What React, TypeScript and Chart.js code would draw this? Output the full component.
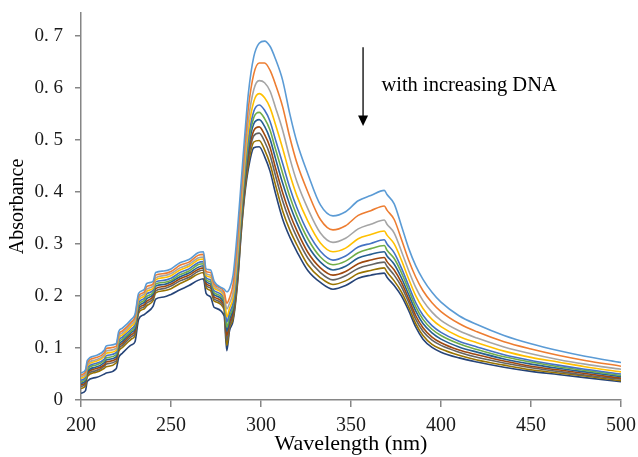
import React, { useEffect, useRef } from 'react';
import { Chart, registerables } from 'chart.js';

Chart.register(...registerables);

const wavelengths = [
  200, 202.5, 203.5, 208, 213, 214, 219.5, 221, 223, 228,
  230, 232, 235, 236.5, 240, 241.5, 246, 250, 255, 260,
  265, 268, 269.5, 272, 274, 279.5, 281, 282.5, 284.5, 287,
  289, 291, 293, 296, 299, 302, 305, 308, 312, 316,
  320, 326, 333, 340, 347, 354, 361, 368.5, 370, 374,
  378, 382, 386, 390, 395, 400, 410, 420, 435, 450,
  465, 480, 500,
];

const s1 = [
  0.052, 0.058, 0.076, 0.085, 0.096, 0.104, 0.108, 0.132, 0.138, 0.155,
  0.165, 0.205, 0.212, 0.224, 0.228, 0.245, 0.248, 0.252, 0.264, 0.270,
  0.283, 0.285, 0.252, 0.250, 0.228, 0.213, 0.208, 0.214, 0.240, 0.330,
  0.420, 0.510, 0.590, 0.660, 0.686, 0.690, 0.680, 0.656, 0.615, 0.550,
  0.495, 0.435, 0.375, 0.354, 0.362, 0.383, 0.393, 0.403, 0.395, 0.377,
  0.335, 0.292, 0.258, 0.232, 0.207, 0.188, 0.162, 0.145, 0.124, 0.108,
  0.095, 0.084, 0.072,
];
const s2 = [
  0.048, 0.054, 0.072, 0.081, 0.091, 0.099, 0.103, 0.127, 0.133, 0.150,
  0.160, 0.200, 0.207, 0.218, 0.223, 0.240, 0.243, 0.247, 0.259, 0.265,
  0.278, 0.280, 0.247, 0.245, 0.223, 0.208, 0.186, 0.196, 0.223, 0.310,
  0.401, 0.488, 0.562, 0.627, 0.648, 0.648, 0.634, 0.607, 0.564, 0.505,
  0.455, 0.400, 0.347, 0.327, 0.335, 0.355, 0.364, 0.373, 0.365, 0.347,
  0.309, 0.269, 0.236, 0.210, 0.187, 0.170, 0.147, 0.131, 0.112, 0.098,
  0.086, 0.076, 0.065,
];
const s3 = [
  0.045, 0.050, 0.068, 0.077, 0.087, 0.094, 0.099, 0.123, 0.129, 0.146,
  0.155, 0.196, 0.203, 0.213, 0.219, 0.235, 0.239, 0.243, 0.254, 0.261,
  0.273, 0.275, 0.243, 0.240, 0.219, 0.203, 0.175, 0.186, 0.208, 0.292,
  0.384, 0.469, 0.538, 0.597, 0.614, 0.610, 0.594, 0.563, 0.519, 0.465,
  0.419, 0.368, 0.321, 0.303, 0.311, 0.329, 0.338, 0.346, 0.338, 0.321,
  0.286, 0.249, 0.216, 0.191, 0.169, 0.153, 0.133, 0.119, 0.102, 0.089,
  0.078, 0.069, 0.059,
];
const s4 = [
  0.042, 0.047, 0.065, 0.074, 0.084, 0.090, 0.095, 0.119, 0.125, 0.142,
  0.151, 0.192, 0.199, 0.209, 0.215, 0.231, 0.235, 0.239, 0.250, 0.257,
  0.269, 0.271, 0.239, 0.236, 0.215, 0.199, 0.160, 0.176, 0.197, 0.279,
  0.371, 0.454, 0.519, 0.574, 0.589, 0.581, 0.562, 0.530, 0.484, 0.434,
  0.392, 0.344, 0.302, 0.285, 0.292, 0.310, 0.318, 0.325, 0.317, 0.300,
  0.269, 0.233, 0.200, 0.176, 0.155, 0.141, 0.122, 0.110, 0.094, 0.082,
  0.073, 0.064, 0.054,
];
const s5 = [
  0.038, 0.044, 0.062, 0.070, 0.079, 0.085, 0.091, 0.114, 0.121, 0.137,
  0.146, 0.187, 0.195, 0.204, 0.211, 0.227, 0.230, 0.234, 0.245, 0.252,
  0.264, 0.266, 0.235, 0.231, 0.210, 0.195, 0.150, 0.168, 0.187, 0.267,
  0.360, 0.441, 0.503, 0.555, 0.567, 0.557, 0.536, 0.501, 0.455, 0.408,
  0.369, 0.323, 0.286, 0.269, 0.277, 0.294, 0.301, 0.308, 0.300, 0.283,
  0.254, 0.220, 0.187, 0.163, 0.143, 0.130, 0.113, 0.102, 0.087, 0.076,
  0.067, 0.059, 0.050,
];
const s6 = [
  0.035, 0.040, 0.058, 0.067, 0.076, 0.081, 0.087, 0.110, 0.117, 0.133,
  0.142, 0.183, 0.191, 0.199, 0.207, 0.223, 0.226, 0.230, 0.241, 0.248,
  0.260, 0.262, 0.231, 0.227, 0.206, 0.191, 0.140, 0.161, 0.181, 0.260,
  0.353, 0.433, 0.493, 0.543, 0.553, 0.541, 0.519, 0.483, 0.436, 0.391,
  0.354, 0.310, 0.275, 0.260, 0.267, 0.283, 0.291, 0.297, 0.288, 0.272,
  0.245, 0.212, 0.179, 0.155, 0.136, 0.124, 0.108, 0.097, 0.083, 0.073,
  0.064, 0.057, 0.047,
];
const s7 = [
  0.032, 0.037, 0.055, 0.063, 0.072, 0.077, 0.083, 0.106, 0.113, 0.130,
  0.137, 0.179, 0.187, 0.195, 0.203, 0.219, 0.222, 0.227, 0.237, 0.244,
  0.255, 0.258, 0.228, 0.223, 0.202, 0.187, 0.132, 0.155, 0.175, 0.252,
  0.346, 0.425, 0.483, 0.531, 0.539, 0.526, 0.502, 0.465, 0.417, 0.375,
  0.340, 0.297, 0.265, 0.250, 0.257, 0.273, 0.280, 0.285, 0.277, 0.261,
  0.235, 0.203, 0.171, 0.147, 0.129, 0.117, 0.102, 0.092, 0.079, 0.069,
  0.061, 0.054, 0.045,
];
const s8 = [
  0.029, 0.034, 0.052, 0.060, 0.068, 0.073, 0.079, 0.102, 0.109, 0.126,
  0.133, 0.175, 0.183, 0.190, 0.199, 0.214, 0.218, 0.223, 0.233, 0.240,
  0.251, 0.254, 0.224, 0.219, 0.198, 0.182, 0.124, 0.149, 0.169, 0.245,
  0.339, 0.417, 0.473, 0.518, 0.525, 0.510, 0.486, 0.447, 0.399, 0.358,
  0.325, 0.284, 0.254, 0.240, 0.247, 0.262, 0.269, 0.274, 0.266, 0.250,
  0.226, 0.195, 0.162, 0.139, 0.121, 0.110, 0.096, 0.087, 0.075, 0.065,
  0.058, 0.051, 0.042,
];
const s9 = [
  0.026, 0.031, 0.049, 0.056, 0.065, 0.069, 0.075, 0.098, 0.105, 0.122,
  0.129, 0.171, 0.179, 0.186, 0.195, 0.210, 0.214, 0.219, 0.229, 0.236,
  0.247, 0.250, 0.220, 0.215, 0.194, 0.178, 0.115, 0.144, 0.163, 0.239,
  0.333, 0.410, 0.464, 0.508, 0.513, 0.497, 0.471, 0.432, 0.383, 0.344,
  0.312, 0.273, 0.245, 0.231, 0.239, 0.253, 0.260, 0.265, 0.257, 0.240,
  0.218, 0.188, 0.155, 0.132, 0.115, 0.105, 0.092, 0.082, 0.071, 0.062,
  0.055, 0.048, 0.040,
];
const s10 = [
  0.022, 0.027, 0.045, 0.053, 0.061, 0.064, 0.071, 0.094, 0.101, 0.117,
  0.124, 0.167, 0.175, 0.181, 0.191, 0.206, 0.210, 0.214, 0.224, 0.232,
  0.242, 0.245, 0.216, 0.210, 0.190, 0.174, 0.105, 0.139, 0.157, 0.231,
  0.326, 0.402, 0.454, 0.496, 0.499, 0.481, 0.454, 0.414, 0.364, 0.327,
  0.298, 0.260, 0.235, 0.222, 0.229, 0.243, 0.249, 0.254, 0.246, 0.229,
  0.208, 0.179, 0.147, 0.124, 0.107, 0.098, 0.086, 0.077, 0.067, 0.058,
  0.052, 0.046, 0.037,
];
const s11 = [
  0.013, 0.018, 0.036, 0.043, 0.050, 0.052, 0.060, 0.082, 0.090, 0.106,
  0.112, 0.155, 0.164, 0.168, 0.180, 0.194, 0.198, 0.203, 0.212, 0.220,
  0.230, 0.233, 0.205, 0.198, 0.178, 0.162, 0.095, 0.133, 0.152, 0.225,
  0.320, 0.395, 0.445, 0.485, 0.487, 0.468, 0.440, 0.398, 0.348, 0.313,
  0.285, 0.249, 0.226, 0.213, 0.220, 0.234, 0.240, 0.244, 0.236, 0.220,
  0.200, 0.172, 0.140, 0.117, 0.101, 0.092, 0.081, 0.073, 0.063, 0.055,
  0.049, 0.043, 0.035,
];

const seriesList = [s1, s2, s3, s4, s5, s6, s7, s8, s9, s10, s11];
const seriesNames = ['1', '2', '3', '4', '5', '6', '7', '8', '9', '10', '11'];
const seriesColors = [
  '#5B9BD5', '#ED7D31', '#A5A5A5', '#FFC000', '#4472C4', '#70AD47',
  '#255E91', '#9E480E', '#636363', '#997300', '#264478',
];

const xTickValues = [200, 250, 300, 350, 400, 450, 500];
const xTickLabels = ['200', '250', '300', '350', '400', '450', '500'];
const yTickValues = [0, 0.1, 0.2, 0.3, 0.4, 0.5, 0.6, 0.7];
const yTickLabels = ['0', '0. 1', '0. 2', '0. 3', '0. 4', '0. 5', '0. 6', '0. 7'];

const xTitle = 'Wavelength (nm)';
const yTitle = 'Absorbance';
const noteText = 'with increasing DNA';

// annotation placement (in data units)
const ARROW_X = 356.7;
const ARROW_Y_START = 0.678;
const ARROW_Y_END = 0.527;
const NOTE_X = 366.9;
const NOTE_Y = 0.594;

const SERIF = '"Liberation Serif", "Times New Roman", serif';

const notePlugin = {
  id: 'arrowNote',
  afterDraw(chart: any) {
    const { ctx, scales } = chart;
    const xs = scales.x;
    const ys = scales.y;
    const ax = xs.getPixelForValue(ARROW_X);
    const y0 = ys.getPixelForValue(ARROW_Y_START);
    const y1 = ys.getPixelForValue(ARROW_Y_END);
    ctx.save();
    ctx.strokeStyle = '#000';
    ctx.fillStyle = '#000';
    ctx.lineWidth = 1.3;
    ctx.beginPath();
    ctx.moveTo(ax, y0);
    ctx.lineTo(ax, y1 - 9);
    ctx.stroke();
    ctx.beginPath();
    ctx.moveTo(ax - 5, y1 - 10.5);
    ctx.lineTo(ax + 5, y1 - 10.5);
    ctx.lineTo(ax, y1);
    ctx.closePath();
    ctx.fill();
    ctx.font = `20.5px ${SERIF}`;
    ctx.textBaseline = 'alphabetic';
    ctx.textAlign = 'left';
    ctx.fillText(noteText, xs.getPixelForValue(NOTE_X), ys.getPixelForValue(NOTE_Y));
    ctx.restore();
  },
};

export default function App() {
  const canvasRef = useRef<HTMLCanvasElement | null>(null);

  useEffect(() => {
    if (!canvasRef.current) return;
    const axisColor = '#868686';
    const chart = new Chart(canvasRef.current, {
      type: 'line',
      data: {
        datasets: seriesList.map((s, i) => ({
          label: seriesNames[i],
          data: wavelengths.map((w, j) => ({ x: w, y: s[j] })),
          borderColor: seriesColors[i],
          backgroundColor: seriesColors[i],
          borderWidth: 1.6,
          pointRadius: 0,
          fill: false,
          cubicInterpolationMode: 'monotone' as const,
        })),
      },
      options: {
        responsive: false,
        animation: false,
        layout: { padding: { left: 0, right: 17, top: 13, bottom: 0 } },
        plugins: {
          legend: { display: false },
          tooltip: { enabled: false },
        },
        scales: {
          x: {
            type: 'linear',
            min: 200,
            max: 500,
            afterBuildTicks: (scale: any) => {
              scale.ticks = xTickValues.map((v) => ({ value: v }));
            },
            afterFit: (scale: any) => {
              scale.height = 57;
              scale.paddingLeft = 0;
              scale.paddingRight = 0;
            },
            ticks: {
              autoSkip: false,
              maxRotation: 0,
              padding: 7,
              color: '#1a1a1a',
              font: { family: SERIF, size: 20 },
              callback: (_v: any, i: number) => xTickLabels[i],
            },
            grid: {
              drawOnChartArea: false,
              drawTicks: true,
              tickLength: 7,
              color: axisColor,
              lineWidth: 1.5,
            },
            border: { display: true, color: axisColor, width: 1.5 },
            title: {
              display: true,
              text: xTitle,
              color: '#000',
              font: { family: SERIF, size: 22 },
              padding: { top: 0, bottom: 0 },
            },
          },
          y: {
            type: 'linear',
            min: 0,
            max: 0.744,
            afterBuildTicks: (scale: any) => {
              scale.ticks = yTickValues.map((v) => ({ value: v }));
            },
            afterFit: (scale: any) => {
              scale.width = 81;
              scale.paddingTop = 0;
              scale.paddingBottom = 0;
            },
            ticks: {
              padding: 12,
              color: '#1a1a1a',
              font: { family: SERIF, size: 19 },
              callback: (_v: any, i: number) => yTickLabels[i],
            },
            grid: {
              drawOnChartArea: false,
              drawTicks: true,
              tickLength: 6,
              color: axisColor,
              lineWidth: 1.5,
            },
            border: { display: true, color: axisColor, width: 1.5 },
            title: {
              display: true,
              text: yTitle,
              color: '#000',
              font: { family: SERIF, size: 20 },
              padding: { top: 6, bottom: 0 },
            },
          },
        },
      },
      plugins: [notePlugin],
    });
    return () => {
      chart.destroy();
    };
  }, []);

  return (
    <div style={{ position: 'absolute', left: 0, top: 0, width: 638, height: 457, background: '#fff' }}>
      <canvas ref={canvasRef} width={638} height={457} style={{ display: 'block' }} />
    </div>
  );
}
